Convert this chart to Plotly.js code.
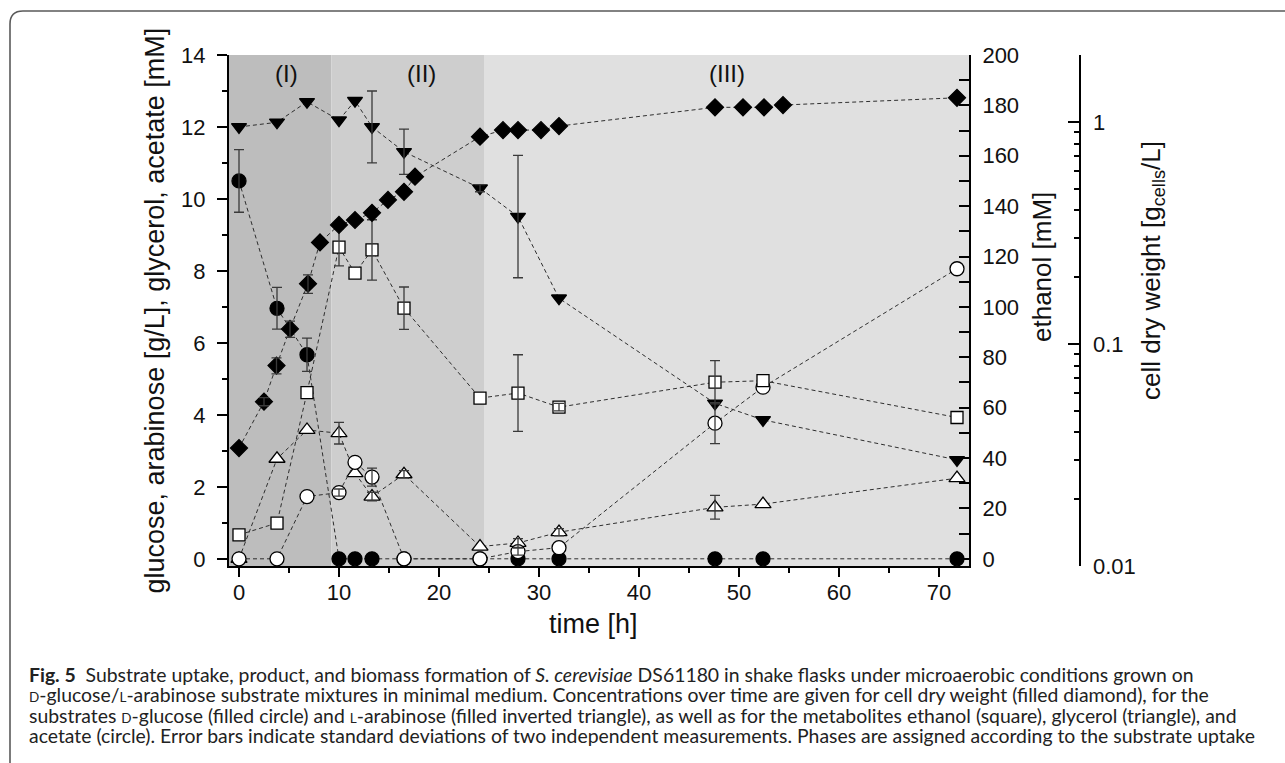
<!DOCTYPE html>
<html>
<head>
<meta charset="utf-8">
<script src="https://cdn.plot.ly/plotly-3.0.1.min.js"></script>
<style>html,body{margin:0;padding:0;background:#fff;}#chart{width:1285px;height:763px;}</style>
</head>
<body>
<div id="chart"></div>
<script>
// ---- data ----
// cell dry weight (filled diamonds, log axis, g_cells/L)
const timeCDW = [0, 2.5, 3.75, 5.1, 6.9, 8.1, 10, 11.6, 13.3, 14.9, 16.5, 17.6, 24.1, 26.4, 27.9, 30.2, 32, 47.6, 50.4, 52.5, 54.4, 71.8];
const cdw     = [0.034, 0.055, 0.080, 0.117, 0.187, 0.287, 0.344, 0.362, 0.390, 0.446, 0.485, 0.567, 0.859, 0.920, 0.920, 0.920, 0.959, 1.165, 1.165, 1.165, 1.193, 1.286];
const cdwErr  = [0, 0.0023, 0.0066, 0.0098, 0.018, 0, 0, 0, 0, 0, 0, 0, 0, 0, 0, 0, 0, 0, 0, 0, 0, 0];

// sampling times of the substrates / metabolites
const timeS = [0, 3.8, 6.8, 10, 11.6, 13.3, 16.5, 24.1, 27.9, 32, 47.6, 52.4, 71.8];
// D-glucose g/L (filled circles)
const glucose    = [10.5, 6.96, 5.67, 0, 0, 0, 0, 0, 0, 0, 0, 0, 0];
const glucoseErr = [0.87, 0.58, 0.46, 0, 0, 0, 0, 0, 0, 0, 0, 0, 0];
// L-arabinose g/L (filled inverted triangles)
const arabinose    = [12.0, 12.13, 12.7, 12.19, 12.73, 12.0, 11.31, 10.3, 9.51, 7.24, 4.32, 3.86, 2.75];
const arabinoseErr = [0, 0, 0, 0, 0, 1.0, 0.63, 0.1, 1.7, 0, 0, 0, 0];
// ethanol mM (open squares, right axis)
const ethanol    = [9.5, 14.2, 66, 123.7, 113.4, 122.6, 99.5, 63.8, 65.8, 60.2, 70.1, 70.7, 56.1];
const ethanolErr = [0, 0, 0, 7.4, 0, 12, 8.4, 0, 15.2, 1.5, 8.6, 0, 0];
// glycerol mM (open triangles)
const glycerol    = [0, 2.78, 3.58, 3.49, 2.38, 1.73, 2.35, 0.34, 0.44, 0.74, 1.43, 1.52, 2.24];
const glycerolErr = [0, 0, 0, 0.3, 0, 0.12, 0.1, 0, 0.12, 0.1, 0.33, 0, 0];
// acetate mM (open circles)
const acetate    = [0, 0, 1.73, 1.84, 2.68, 2.27, 0, 0, 0.2, 0.31, 3.77, 4.77, 8.06];
const acetateErr = [0, 0, 0, 0.1, 0, 0.25, 0, 0, 0.1, 0, 0.57, 0, 0];

// phases
const phaseStart = [-1, 9.24, 24.5];
const phaseEnd   = [9.24, 24.5, 73];
const phaseLabel = ['(I)', '(II)', '(III)'];
const phaseLabelX = [4.7, 18.2, 48.8];

// log axis tick labels
const cdwTickVals = [0.01, 0.1, 1];
const cdwTickText = ['0.01', '0.1', '1'];

// ---- layout geometry (pixels) ----
const W = 1285, H = 763;
const L = 229, T = 55, PB = 566;
const paperRight = 1185;
const plotRight = 969;
const PW = paperRight - L, PH = PB - T;
const px = v => (v - L) / PW;
const py = v => (PB - v) / PH;

const FONT = 'Liberation Sans, Arial, sans-serif';
const lineStyle = {color: '#2e2e2e', width: 1, dash: '4px,3px'};

function series(x, y, yaxis, symbol, size, fill) {
  return {
    x: x, y: y, yaxis: yaxis, type: 'scatter', mode: 'lines+markers',
    line: lineStyle, cliponaxis: false,
    marker: {symbol: symbol, size: size, color: fill, line: {color: '#000', width: 1.3}},
    hoverinfo: 'x+y', showlegend: false
  };
}
// error bars drawn on top of the markers, only where a deviation was reported
function errs(x, y, e, yaxis) {
  const xs = [], ys = [], es = [];
  for (let i = 0; i < e.length; i++) if (e[i] > 0) { xs.push(x[i]); ys.push(y[i]); es.push(e[i]); }
  return {
    x: xs, y: ys, yaxis: yaxis, type: 'scatter', mode: 'markers', cliponaxis: false,
    marker: {opacity: 0, size: 2}, showlegend: false, hoverinfo: 'skip',
    error_y: {type: 'data', array: es, visible: true, color: '#3a3a3a', thickness: 1.3, width: 5}
  };
}

const data = [
  series(timeS, arabinose, 'y', 'triangle-down', 13, '#000'),
  series(timeS, glucose, 'y', 'circle', 14, '#000'),
  series(timeS, glycerol, 'y', 'triangle-up', 14, '#fff'),
  series(timeS, acetate, 'y', 'circle', 14, '#fff'),
  errs(timeS, arabinose, arabinoseErr, 'y'),
  errs(timeS, glucose, glucoseErr, 'y'),
  errs(timeS, glycerol, glycerolErr, 'y'),
  errs(timeS, acetate, acetateErr, 'y'),
  series(timeS, ethanol, 'y2', 'square', 12, '#fff'),
  errs(timeS, ethanol, ethanolErr, 'y2'),
  series(timeCDW, cdw, 'y3', 'diamond', 13, '#000'),
  errs(timeCDW, cdw, cdwErr, 'y3')
];

const shapes = [];
const shadeColors = ['#bdbdbd', '#cecece', '#e0e0e0'];
for (let i = 0; i < phaseStart.length; i++) {
  shapes.push({type: 'rect', xref: 'x', yref: 'paper', x0: phaseStart[i], x1: phaseEnd[i], y0: 0, y1: 1,
    fillcolor: shadeColors[i], line: {width: 0}, layer: 'below'});
}
// figure frame (rounded top-left corner)
const fx = px(10), fy = py(11), rx = 13 / PW, ry = 13 / PH;
shapes.push({type: 'path', xref: 'paper', yref: 'paper', layer: 'above',
  path: `M ${fx} ${py(770)} L ${fx} ${fy - ry} Q ${fx} ${fy} ${fx + rx} ${fy} L ${px(1300)} ${fy}`,
  line: {color: '#5a5a5a', width: 1.6}});

const annotations = [];
for (let i = 0; i < phaseLabel.length; i++) {
  annotations.push({x: phaseLabelX[i], xref: 'x', y: py(73), yref: 'paper', text: phaseLabel[i], showarrow: false,
    font: {family: FONT, size: 24, color: '#111'}, xanchor: 'center', yanchor: 'middle'});
}
// log-axis tick labels
for (let i = 0; i < cdwTickVals.length; i++) {
  annotations.push({x: px(1091), xref: 'paper', y: Math.log10(cdwTickVals[i]), yref: 'y3', text: cdwTickText[i],
    showarrow: false, font: {family: FONT, size: 22, color: '#111'}, xanchor: 'left', yanchor: 'middle'});
}
// axis titles
annotations.push({x: px(154), y: py(310.5), xref: 'paper', yref: 'paper', textangle: -90, showarrow: false,
  text: 'glucose, arabinose [g/L], glycerol, acetate [mM]', font: {family: FONT, size: 27, color: '#111'},
  xanchor: 'center', yanchor: 'middle'});
annotations.push({x: px(593), y: py(624), xref: 'paper', yref: 'paper', showarrow: false,
  text: 'time [h]', font: {family: FONT, size: 27, color: '#111'}, xanchor: 'center', yanchor: 'middle'});
annotations.push({x: px(1042), y: py(267), xref: 'paper', yref: 'paper', textangle: -90, showarrow: false,
  text: 'ethanol [mM]', font: {family: FONT, size: 26, color: '#111'}, xanchor: 'center', yanchor: 'middle'});
annotations.push({x: px(1152), y: py(271), xref: 'paper', yref: 'paper', textangle: -90, showarrow: false,
  text: 'cell dry weight [g<sub>cells</sub>/L]', font: {family: FONT, size: 26, color: '#111'}, xanchor: 'center', yanchor: 'middle'});

// caption
const sc = s => '<span style="font-size:13.5px">' + s + '</span>';
const captionLines = [
  '<b>Fig. 5</b>  Substrate uptake, product, and biomass formation of <i>S. cerevisiae</i> DS61180 in shake flasks under microaerobic conditions grown on',
  sc('D') + '-glucose/' + sc('L') + '-arabinose substrate mixtures in minimal medium. Concentrations over time are given for cell dry weight (filled diamond), for the',
  'substrates ' + sc('D') + '-glucose (filled circle) and ' + sc('L') + '-arabinose (filled inverted triangle), as well as for the metabolites ethanol (square), glycerol (triangle), and',
  'acetate (circle). Error bars indicate standard deviations of two independent measurements. Phases are assigned according to the substrate uptake'
];
const captionY = [674, 694.5, 715, 735.5];
for (let i = 0; i < captionLines.length; i++) {
  annotations.push({x: px(27), y: py(captionY[i]), xref: 'paper', yref: 'paper', showarrow: false,
    text: captionLines[i], font: {family: 'Lato, sans-serif', size: 19.4, color: '#222'},
    xanchor: 'left', yanchor: 'middle', align: 'left'});
}

const tickFont = {family: FONT, size: 22, color: '#111'};
const layout = {
  width: W, height: H,
  margin: {l: L, r: W - paperRight, t: T, b: H - PB, pad: 0},
  paper_bgcolor: '#fff', plot_bgcolor: 'rgba(0,0,0,0)',
  showlegend: false,
  xaxis: {
    domain: [0, px(plotRight)], range: [-1, 73], tickmode: 'linear', tick0: 0, dtick: 10,
    ticks: 'outside', ticklen: 9, tickwidth: 2, tickcolor: '#000', showgrid: false, zeroline: false,
    showline: true, linecolor: '#000', linewidth: 2, tickfont: tickFont, ticklabelstandoff: -3,
    minor: {dtick: 5, tick0: 0, ticks: 'outside', ticklen: 5, tickwidth: 2, tickcolor: '#000', showgrid: false}
  },
  yaxis: {
    range: [-0.2, 14], tickmode: 'linear', tick0: 0, dtick: 2,
    ticks: 'outside', ticklen: 10, tickwidth: 2, tickcolor: '#000', showgrid: false, zeroline: false,
    showline: true, linecolor: '#000', linewidth: 2, tickfont: tickFont, ticklabelstandoff: 7,
    minor: {dtick: 1, tick0: 0, ticks: 'outside', ticklen: 5, tickwidth: 2, tickcolor: '#000', showgrid: false}
  },
  yaxis2: {
    overlaying: 'y', side: 'right', anchor: 'x', range: [-200 * 0.2 / 14, 200], tickmode: 'linear', tick0: 0, dtick: 20,
    ticks: 'inside', ticklen: 10, tickwidth: 2, tickcolor: '#000', showgrid: false, zeroline: false,
    showline: true, linecolor: '#000', linewidth: 2, tickfont: tickFont, ticklabelstandoff: 7,
    minor: {dtick: 10, tick0: 0, ticks: 'inside', ticklen: 10, tickwidth: 2, tickcolor: '#000', showgrid: false}
  },
  yaxis3: {
    overlaying: 'y', side: 'right', anchor: 'free', position: px(1080), type: 'log', range: [-2, 0.302],
    tickmode: 'array', tickvals: cdwTickVals, showticklabels: false,
    ticks: 'inside', ticklen: 11, tickwidth: 2, tickcolor: '#000', showgrid: false, zeroline: false,
    showline: true, linecolor: '#000', linewidth: 2,
    minor: {tickmode: 'array', tickvals: [0.02,0.03,0.04,0.05,0.06,0.07,0.08,0.09,0.2,0.3,0.4,0.5,0.6,0.7,0.8,0.9,2],
      ticks: 'inside', ticklen: 5, tickwidth: 2, tickcolor: '#000', showgrid: false}
  },
  shapes: shapes,
  annotations: annotations
};

Plotly.newPlot('chart', data, layout, {displayModeBar: false, staticPlot: true});
</script>
</body>
</html>
